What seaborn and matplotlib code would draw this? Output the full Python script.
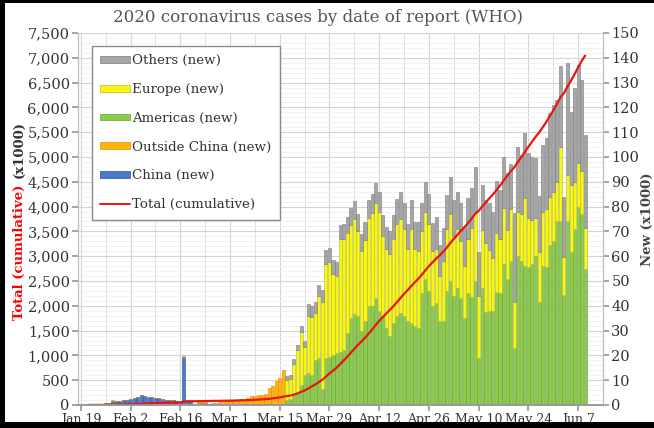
"""
2020 coronavirus cases by date of report (WHO)
"""

import matplotlib
matplotlib.use('Agg')
import matplotlib.pyplot as plt
import numpy as np
import pandas as pd
import seaborn as sns
from matplotlib.lines import Line2D
from matplotlib.patches import Patch, Rectangle
from matplotlib.ticker import MultipleLocator, StrMethodFormatter

# New cases (x1000) by WHO report date, before the regional split
early_dates = pd.date_range('2020-01-21', '2020-03-16')
china_new = [
    0.278, 0.032, 0.261, 0.259, 0.467, 0.688, 0.756, 1.796, 1.460, 1.739, 1.984,
    2.101, 2.590, 2.827, 3.233, 3.892, 3.697, 3.151, 3.387, 2.653, 2.984,
    2.473, 2.022, 1.820, 1.998, 1.506, 1.120, 19.461, 1.893, 1.752, 0.395,
    0.894, 0.823, 0.650, 0.220, 0.518, 0.411, 0.439, 0.331, 0.433,
    0.574, 0.206, 0.130, 0.118, 0.143, 0.146, 0.102, 0.046, 0.045, 0.020,
    0.031, 0.026, 0.010, 0.030, 0.027, 0.029,
]
outside_china_new = [
    0.004, 0.000, 0.006, 0.006, 0.007, 0.006, 0.008, 0.019, 0.012, 0.014, 0.024,
    0.026, 0.014, 0.007, 0.006, 0.032, 0.025, 0.054, 0.018, 0.019, 0.012,
    0.076, 0.046, 0.006, 0.058, 0.021, 0.157, 0.111, 0.010, 0.120, 0.149,
    0.127, 0.202, 0.367, 0.300, 0.390, 0.459, 0.746, 1.027, 1.318,
    1.160, 1.605, 1.792, 2.102, 2.100, 2.713, 3.629, 3.617, 3.947, 4.104,
    4.586, 6.703, 7.700, 9.751, 10.951, 13.965,
]

# New cases (x1000) by WHO region, from Mar 17
late_dates = pd.date_range('2020-03-17', '2020-06-09')
americas_new = [
    2.0, 2.5, 4.0, 5.0, 8.0, 12.0, 13.0, 12.0, 18.0, 19.0, 6.5, 19.0, 19.5, 20.0, 21.0,
    21.5, 22.0, 29.0, 35.0, 36.5, 36.0, 30.0, 34.0, 40.0, 40.0, 43.0, 38.0, 36.0, 31.0, 28.0,
    33.0, 36.0, 37.0, 36.0, 34.0, 33.0, 32.0, 31.0, 45.0, 51.0, 46.0, 40.0, 41.0, 34.0, 34.0,
    46.0, 50.0, 44.0, 47.0, 43.0, 35.0, 45.0, 43.5, 50.0, 18.8, 47.0, 37.6, 38.0, 38.0, 45.4,
    45.0, 57.0, 51.0, 58.0, 22.8, 60.0, 58.0, 56.0, 55.8, 57.0, 60.0, 41.7, 56.0, 55.5, 64.5,
    66.0, 74.0, 74.0, 44.4, 74.0, 61.8, 71.0, 80.0, 77.0, 55.0,
]
europe_new = [
    8.0, 8.0, 12.7, 17.0, 21.5, 11.5, 23.0, 23.5, 19.0, 25.0, 35.0, 38.0, 38.0, 33.0, 31.0,
    45.5, 45.0, 40.5, 37.5, 38.5, 34.0, 32.0, 32.5, 35.5, 37.5, 38.5, 40.0, 32.0, 32.0, 33.0,
    34.0, 37.0, 38.0, 35.0, 29.0, 38.0, 31.0, 31.0, 25.0, 27.0, 27.0, 22.0, 22.0, 18.0, 24.0,
    25.0, 27.0, 24.0, 24.0, 23.0, 21.0, 22.0, 28.0, 28.0, 25.0, 23.6, 27.7, 24.5, 21.2, 24.1,
    22.0, 22.3, 19.6, 21.0, 18.9, 18.0, 19.0, 27.5, 19.6, 17.6, 15.4, 20.1, 22.0, 23.5, 19.5,
    20.0, 16.0, 30.0, 15.4, 18.7, 26.9, 19.0, 17.4, 17.5, 16.2,
]
others_new = [
    1.6, 1.5, 2.0, 2.2, 2.5, 2.5, 4.8, 4.3, 4.4, 4.5, 5.0, 5.5, 5.7, 5.4, 5.7,
    5.7, 5.8, 6.4, 6.8, 7.1, 7.2, 6.8, 7.1, 7.3, 7.5, 8.2, 7.7, 8.5, 8.8, 9.0,
    9.6, 10.0, 10.7, 10.6, 9.8, 11.6, 10.9, 11.7, 11.5, 12.0, 11.9, 11.4, 13.0, 12.7, 13.5,
    13.8, 15.0, 14.6, 15.0, 15.5, 15.4, 16.5, 16.2, 17.8, 17.8, 18.3, 17.3, 19.1, 18.8, 20.8,
    19.8, 20.7, 22.9, 18.0, 35.6, 26.0, 24.0, 26.0, 26.1, 25.4, 24.3, 22.5, 26.8, 28.7, 33.6,
    35.0, 33.0, 32.7, 24.2, 45.3, 29.6, 38.0, 39.6, 36.5, 37.8,
]

tick_dates = pd.date_range('2020-01-19', '2020-06-07', freq='14D')
tick_labels = ['Jan 19', 'Feb 2', 'Feb 16', 'Mar 1', 'Mar 15', 'Mar 29',
               'Apr 12', 'Apr 26', 'May 10', 'May 24', 'Jun 7']

COLORS = {
    'China': ('#4a78cc', '#2f5597'),
    'Outside China': ('#ffb20a', '#e08e00'),
    'Americas': ('#8ccb4c', '#6a9f37'),
    'Europe': ('#f7f712', '#b9b930'),
    'Others': ('#a6a6a6', '#7a7a7a'),
}
LINE_COLOR = '#e8150f'

sns.set_theme(style='whitegrid')
plt.rcParams['font.family'] = ['DejaVu Serif']

fig = plt.figure(figsize=(6.54, 4.28), dpi=100)
# bars on the "New" axis (right), cumulative line on a twin axis (left)
ax = fig.add_axes([78 / 654, 1 - 405 / 428, 525 / 654, 372 / 428])
ax2 = ax.twinx()

# Stack the daily bars
bottom = np.zeros(len(early_dates))
for name, vals in [('China', china_new), ('Outside China', outside_china_new)]:
    face, edge = COLORS[name]
    ax.bar(early_dates, vals, bottom=bottom, width=0.86, color=face,
           edgecolor=edge, linewidth=0.4)
    bottom += np.array(vals)

bottom = np.zeros(len(late_dates))
for name, vals in [('Americas', americas_new), ('Europe', europe_new),
                   ('Others', others_new)]:
    face, edge = COLORS[name]
    ax.bar(late_dates, vals, bottom=bottom, width=0.86, color=face,
           edgecolor=edge, linewidth=0.4)
    bottom += np.array(vals)

# Cumulative total from the daily numbers
all_dates = early_dates.append(late_dates)
daily_total = np.concatenate([np.add(china_new, outside_china_new),
                              np.add(np.add(americas_new, europe_new), others_new)])
sns.lineplot(x=all_dates, y=np.cumsum(daily_total), ax=ax2, color=LINE_COLOR,
             linewidth=1.6)

# Axes limits and ticks
xmin = pd.Timestamp('2020-01-19') - pd.Timedelta(hours=19)
xmax = pd.Timestamp('2020-06-10') + pd.Timedelta(hours=17)
ax.set_xlim(xmin, xmax)
ax2.set_xlim(xmin, xmax)
ax.set_ylim(0, 150)
ax2.set_ylim(0, 7500)

ax.set_xticks(tick_dates)
ax.set_xticklabels(tick_labels)
ax.set_xticks(tick_dates + pd.Timedelta(days=7), minor=True)

ax.yaxis.tick_right()
ax.yaxis.set_major_locator(MultipleLocator(10))
ax.yaxis.set_minor_locator(MultipleLocator(2))
ax2.yaxis.tick_left()
ax2.yaxis.set_major_locator(MultipleLocator(500))
ax2.yaxis.set_major_formatter(StrMethodFormatter('{x:,.0f}'))

ax.tick_params(axis='x', which='major', bottom=True, length=4, color='#999999',
               labelsize=9, labelcolor='#333333', pad=2)
ax.tick_params(axis='x', which='minor', bottom=False)
ax.tick_params(axis='y', which='major', right=True, left=False, labelright=True,
               labelleft=False, length=4, color='#999999', labelsize=10.5,
               labelcolor='#333333', pad=2)
ax.tick_params(axis='y', which='minor', right=False, left=False)
ax2.tick_params(axis='y', which='major', left=True, right=False, labelleft=True,
                labelright=False, length=4, color='#999999', labelsize=10.5,
                labelcolor='#333333', pad=2)

# Grid
ax.set_axisbelow(True)
ax.grid(True, which='major', axis='both', color='#d4d4d4', linewidth=0.8)
ax.grid(True, which='minor', axis='y', color='#ededed', linewidth=0.5)
ax.grid(True, which='minor', axis='x', color='#e0e0e0', linewidth=0.7)
ax2.grid(False)

for a in (ax, ax2):
    a.set_facecolor('none')
    a.spines['top'].set_visible(False)
    for side in ('left', 'right'):
        a.spines[side].set_color('#bdbdbd')
        a.spines[side].set_linewidth(0.8)
    a.spines['bottom'].set_color('#9a9a9a')
    a.set_xlabel('')
    a.set_ylabel('')
ax.set_facecolor('white')

# Axis titles
fig.text(647 / 654, 1 - 219 / 428, 'New (x1000)', rotation=90, ha='center',
         va='center', fontsize=9.5, fontweight='bold', color='#444444')
fig.text(19 / 654, 1 - 320 / 428, 'Total (cumulative)', rotation=90, ha='center',
         va='bottom', fontsize=9.5, fontweight='bold', color='red')
fig.text(19 / 654, 1 - 178 / 428, '(x1000)', rotation=90, ha='center',
         va='bottom', fontsize=9.5, fontweight='bold', color='#333333')

fig.text(0.487, 1 - 17 / 428, '2020 coronavirus cases by date of report (WHO)',
         ha='center', va='center', fontsize=12, color='#555555')

# Legend
handles = [Patch(facecolor=COLORS[n][0], edgecolor=COLORS[n][1], linewidth=0.5)
           for n in ['Others', 'Europe', 'Americas', 'Outside China', 'China']]
handles.append(Line2D([], [], color=LINE_COLOR, linewidth=1.4))
labels = ['Others (new)', 'Europe (new)', 'Americas (new)',
          'Outside China (new)', 'China (new)', 'Total (cumulative)']
leg = ax2.legend(handles, labels, loc='upper left', bbox_to_anchor=(0.026, 0.966),
                 borderaxespad=0, fontsize=9.6, frameon=True, fancybox=False,
                 handlelength=2.2, handleheight=0.4, handletextpad=0.15,
                 labelspacing=1.18, borderpad=0.65, labelcolor='#333333')
leg.get_frame().set_edgecolor('#8a8a8a')
leg.get_frame().set_linewidth(1.0)
leg.get_frame().set_alpha(1)

# Dark bands along the left, top and bottom edges
for rect in [(0, 0, 5 / 654, 1), (0, 1 - 3 / 428, 1, 3 / 428), (0, 0, 1, 6 / 428)]:
    fig.patches.append(Rectangle(rect[:2], rect[2], rect[3], transform=fig.transFigure,
                                 facecolor='black', edgecolor='none', zorder=10))

fig.savefig('out.png', dpi=100)
